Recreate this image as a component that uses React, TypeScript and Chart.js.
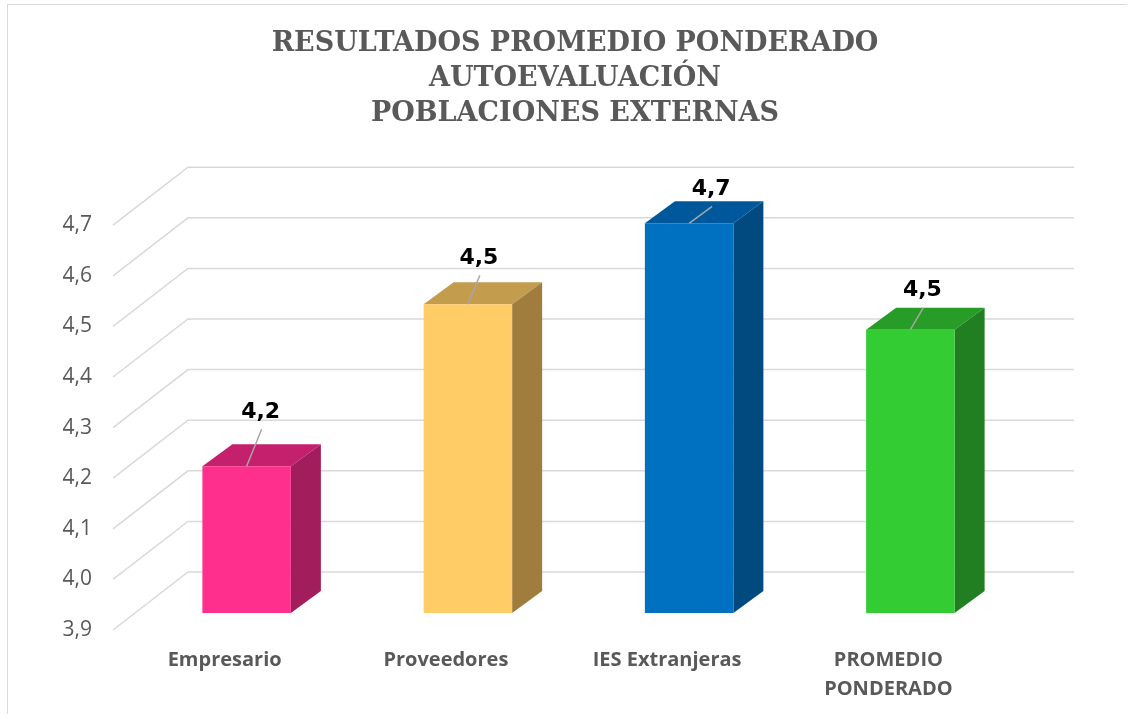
import React, { useEffect, useRef } from "react";
import { Chart, registerables } from "chart.js";

Chart.register(...registerables);

// ---- data ----
const titleLines = ["RESULTADOS PROMEDIO PONDERADO", "AUTOEVALUACIÓN", "POBLACIONES EXTERNAS"];
const categories: (string | string[])[] = ["Empresario", "Proveedores", "IES Extranjeras", ["PROMEDIO", "PONDERADO"]];
const values = [4.19, 4.51, 4.67, 4.46];
const yMin = 3.9;
const yMax = 4.7;
const yStep = 0.1;

// ---- styles / layout ----
const frontColors = ["#FF2F8E", "#FFCC66", "#0070C0", "#33CC33"];
const topColors = ["#C4206E", "#C49C4E", "#00589C", "#279C27"];
const sideColors = ["#A21D5B", "#A07D3D", "#004A80", "#217F21"];
const labelNudges = [
  [14, -54],
  [11, -46],
  [22, -34],
  [12, -39],
];
const WALL = { dx: 75, dy: -58 };
const PLANE = { dx: 22, dy: -17 };
const DEPTH = { dx: 30, dy: -22 };

const fmt = (v: number) => v.toFixed(1).replace(".", ",");

const threeD = {
  id: "threeD",
  beforeDatasetsDraw(chart: any) {
    const { ctx, chartArea, scales } = chart;
    const ys = scales.y;
    ctx.save();
    ctx.strokeStyle = "#d9d9d9";
    ctx.lineWidth = 1.5;
    ys.ticks.forEach((t: any) => {
      const py = ys.getPixelForValue(t.value);
      ctx.beginPath();
      ctx.moveTo(chartArea.left - 1, py);
      ctx.lineTo(chartArea.left - 1 + WALL.dx, py + WALL.dy);
      ctx.lineTo(chartArea.right + WALL.dx, py + WALL.dy);
      ctx.stroke();
    });
    ctx.restore();

    ctx.save();
    ctx.translate(PLANE.dx, PLANE.dy);
    const meta = chart.getDatasetMeta(0);
    meta.data.forEach((bar: any, i: number) => {
      const { x, y: top, base, width } = bar.getProps(["x", "y", "base", "width"], true);
      const l = x - width / 2;
      const r = x + width / 2;
      ctx.fillStyle = topColors[i];
      ctx.beginPath();
      ctx.moveTo(l, top);
      ctx.lineTo(r, top);
      ctx.lineTo(r + DEPTH.dx, top + DEPTH.dy);
      ctx.lineTo(l + DEPTH.dx, top + DEPTH.dy);
      ctx.closePath();
      ctx.fill();
      ctx.fillStyle = sideColors[i];
      ctx.beginPath();
      ctx.moveTo(r, top);
      ctx.lineTo(r + DEPTH.dx, top + DEPTH.dy);
      ctx.lineTo(r + DEPTH.dx, base + DEPTH.dy);
      ctx.lineTo(r, base);
      ctx.closePath();
      ctx.fill();
    });
  },
  afterDatasetsDraw(chart: any) {
    const { ctx } = chart;
    ctx.restore();
    const meta = chart.getDatasetMeta(0);
    ctx.save();
    meta.data.forEach((bar: any, i: number) => {
      const { x, y: top } = bar.getProps(["x", "y"], true);
      const bx = x + PLANE.dx;
      const by = top + PLANE.dy;
      const lx = bx + labelNudges[i][0];
      const ly = by + labelNudges[i][1];
      ctx.strokeStyle = "#a6a6a6";
      ctx.lineWidth = 1.5;
      ctx.beginPath();
      ctx.moveTo(lx + 1, ly + 17);
      ctx.lineTo(bx, by);
      ctx.stroke();
      ctx.fillStyle = "#000000";
      ctx.font = "bold 22px 'DejaVu Sans'";
      ctx.textAlign = "center";
      ctx.textBaseline = "middle";
      ctx.fillText(fmt(values[i]), lx, ly);
    });
    ctx.restore();
  },
};

export default function App() {
  const ref = useRef<HTMLCanvasElement | null>(null);
  useEffect(() => {
    if (!ref.current) return;
    const chart = new Chart(ref.current, {
      type: "bar",
      data: {
        labels: categories as any,
        datasets: [
          {
            data: values,
            backgroundColor: frontColors,
            borderWidth: 0,
            barPercentage: 0.4,
            categoryPercentage: 1,
            base: yMin,
            clip: false as any,
          },
        ],
      },
      options: {
        animation: false,
        responsive: true,
        maintainAspectRatio: false,
        layout: { padding: { top: 0, left: 16, right: 0, bottom: 0 } },
        plugins: {
          legend: { display: false },
          tooltip: { enabled: false },
          title: {
            display: true,
            text: titleLines,
            color: "#595959",
            font: { family: "'DejaVu Serif'", size: 27, weight: "bold", lineHeight: 1.28 },
            padding: { top: 27.2, bottom: 94.3 },
          },
        },
        scales: {
          x: {
            grid: { display: false, drawTicks: false },
            border: { display: false },
            ticks: {
              color: "#595959",
              font: { family: "'Open Sans'", size: 20, weight: "bold", lineHeight: 1.45 },
              padding: 15.5,
              maxRotation: 0,
              autoSkip: false,
            },
            afterFit: (s: any) => {
              s.height = 89;
            },
          },
          y: {
            min: yMin,
            max: yMax,
            grid: { display: false, drawTicks: false },
            border: { display: false },
            ticks: {
              stepSize: yStep,
              color: "#595959",
              font: { family: "'Open Sans'", size: 21 },
              padding: 22,
              callback: (v: any) => fmt(Number(v)),
            },
            afterFit: (s: any) => {
              s.width = 98;
            },
          },
          yRight: {
            position: "right",
            min: yMin,
            max: yMax,
            grid: { display: false, drawTicks: false },
            border: { display: false },
            ticks: { display: false },
            afterFit: (s: any) => {
              s.width = 135;
            },
          },
        },
      },
      plugins: [threeD],
    });
    return () => chart.destroy();
  }, []);

  return (
    <>
      <div
        style={{
          position: "fixed",
          left: 7,
          top: 4,
          width: 1120,
          height: 710,
          borderLeft: "1.5px solid #d9d9d9",
          borderTop: "1.5px solid #d9d9d9",
          boxSizing: "border-box",
        }}
      />
      <div style={{ position: "fixed", left: 0, top: 0, width: 1134, height: 719 }}>
        <canvas ref={ref} />
      </div>
    </>
  );
}
